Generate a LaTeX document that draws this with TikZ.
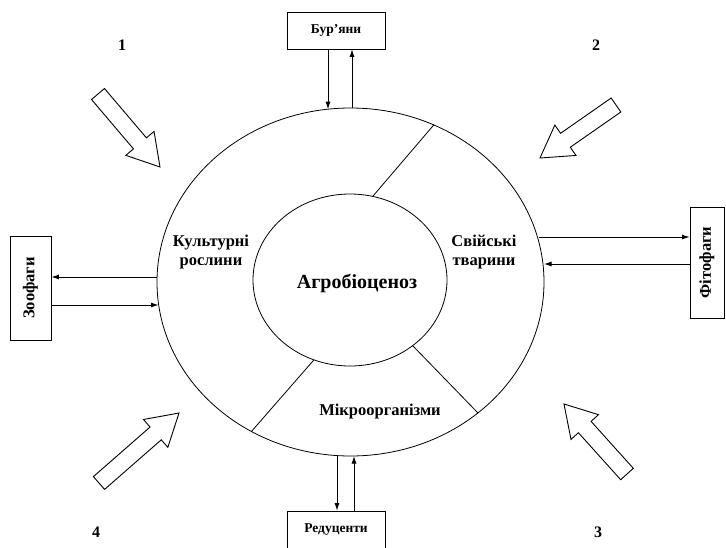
\documentclass[tikz,border=0pt]{standalone}
\usepackage{fontspec}
\setmainfont{Liberation Serif}
\usetikzlibrary{shapes.geometric,arrows.meta,calc}

% hollow block arrow from tail #1 to tip #2
\newcommand\hollowarrow[2]{%
  \coordinate (hb) at ($(#2)!31pt!(#1)$);
  \draw[blockarrow] (#2) -- ($(hb)!18.5pt!90:(#2)$) -- ($(hb)!8.5pt!90:(#2)$)
    -- ($(#1)!8.5pt!90:(#2)$) -- ($(#1)!8.5pt!-90:(#2)$)
    -- ($(hb)!8.5pt!-90:(#2)$) -- ($(hb)!18.5pt!-90:(#2)$) -- cycle;
}

\begin{document}
\begin{tikzpicture}[x=1pt,y=-1pt,
  ring/.style={draw, line width=0.8pt},
  box/.style={draw, line width=0.8pt, inner sep=0pt},
  lbl/.style={font=\bfseries\fontsize{16.5}{19.5}\selectfont, align=center},
  boxlbl/.style={font=\bfseries\fontsize{13.5}{15}\selectfont},
  sidelbl/.style={font=\bfseries\fontsize{16.5}{18}\selectfont, rotate=90},
  numlbl/.style={font=\bfseries\fontsize{16}{18}\selectfont},
  conn/.style={line width=0.9pt, -{Latex[length=7.5pt,width=5pt]}},
  blockarrow/.style={draw, line width=0.9pt, line join=miter, fill=white}]

\useasboundingbox (0,0) rectangle (726,547);

% rings of the agrocenosis
\node[ring, ellipse, minimum width=387pt, minimum height=348pt] (outer) at (350.5,282) {};
\node[ring, ellipse, minimum width=194pt, minimum height=172pt] (inner) at (350,280) {};

% sector dividers
\draw[line width=0.8pt] (433.8,124.9) -- (372.7,196.4);
\draw[line width=0.8pt] (313.9,359.9) -- (251.3,431.6);
\draw[line width=0.8pt] (412.7,345.7) -- (478,413);

% sector labels
\node[font=\bfseries\fontsize{20}{22}\selectfont] (agro) at (357,283) {Агробіоценоз};
\node[lbl] (crops) at (211,252) {Культурні\\рослини};
\node[lbl] (stock) at (484,252) {Свійські\\тварини};
\node[lbl] (micro) at (380,412) {Мікроорганізми};

% outer boxes
\node[box, minimum width=98pt, minimum height=37pt] (weeds) at (336,30.5) {};
\node[boxlbl] at (weeds) {Бур’яни};
\node[box, minimum width=41pt, minimum height=104pt] (zoo) at (30.5,288) {};
\node[sidelbl] at (zoo) {Зоофаги};
\node[box, minimum width=34pt, minimum height=111pt] (phyto) at (707,262.5) {};
\node[sidelbl] at (phyto) {Фітофаги};
\node[box, minimum width=98pt, minimum height=50pt] (red) at (336,536) {};
\node[boxlbl] at (336,530) {Редуценти};

% points on the outer ring where the exchanges meet it
\coordinate (rt1) at (328,109.2);
\coordinate (rt2) at (352,108);
\coordinate (rl1) at (157,277);
\coordinate (rl2) at (158.5,305);
\coordinate (rr1) at (538.5,237);
\coordinate (rr2) at (544,264);
\coordinate (rb1) at (337,455.5);
\coordinate (rb2) at (354,456);

\draw[conn] (weeds.south -| rt1) -- (rt1);
\draw[conn] (rt2) -- (weeds.south -| rt2);
\draw[conn] (rl1) -- (zoo.east |- rl1);
\draw[conn] (zoo.east |- rl2) -- (rl2);
\draw[conn] (rr1) -- (phyto.west |- rr1);
\draw[conn] (phyto.west |- rr2) -- (rr2);
\draw[conn] (rb1) -- (red.north -| rb1);
\draw[conn] (red.north -| rb2) -- (rb2);

% external influences
\coordinate (a1t) at (98,94);   \coordinate (a1p) at (160,167);
\coordinate (a2t) at (616,105); \coordinate (a2p) at (540,158);
\coordinate (a3t) at (627,474); \coordinate (a3p) at (564,404);
\coordinate (a4t) at (99,483);  \coordinate (a4p) at (179,413);
\hollowarrow{a1t}{a1p}
\hollowarrow{a2t}{a2p}
\hollowarrow{a3t}{a3p}
\hollowarrow{a4t}{a4p}

\node[numlbl] (n1) at (122,45) {1};
\node[numlbl] (n2) at (596,45) {2};
\node[numlbl] (n3) at (598,532) {3};
\node[numlbl] (n4) at (96,532) {4};
\end{tikzpicture}
\end{document}
